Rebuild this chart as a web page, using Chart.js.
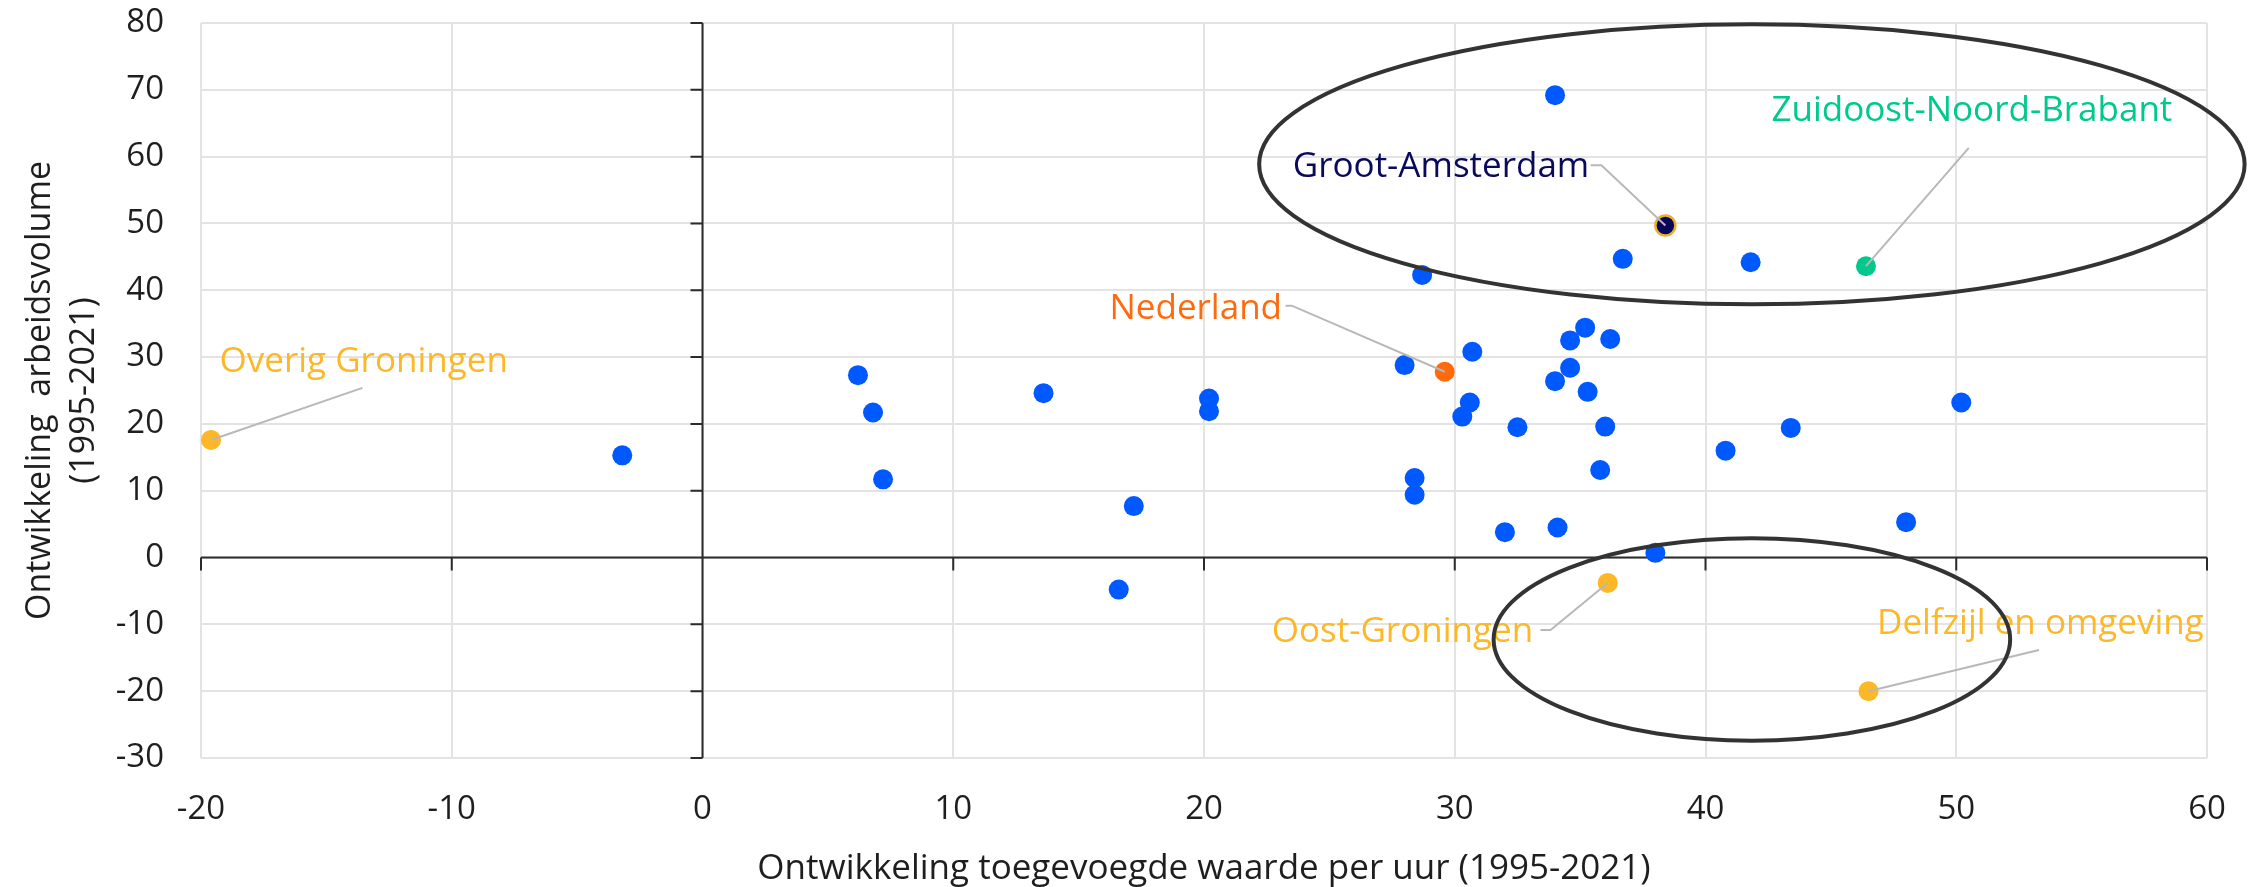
<!DOCTYPE html>
<html>
<head>
<meta charset="utf-8">
<script src="https://cdn.jsdelivr.net/npm/chart.js@4.4.1/dist/chart.umd.min.js"></script>
<style>
  body { margin: 0; background: #fff; }
  #wrap { width: 2254px; height: 887px; position: relative; }
</style>
</head>
<body>
<div id="wrap"><canvas id="chart"></canvas></div>
<script>
// overige COROP-regio's (x: toegevoegde waarde per uur, y: arbeidsvolume)
var otherX = [-3.2, 6.2, 6.8, 7.2, 13.6, 16.6, 17.2, 20.2, 20.2, 28.0, 28.7, 28.4, 28.4, 30.7, 30.6, 30.3, 32.0, 32.5,
              34.0, 36.7, 41.8, 35.2, 34.6, 36.2, 34.6, 34.0, 35.3, 36.0, 35.8, 50.2, 43.4, 40.8, 48.0, 34.1, 38.0];
var otherY = [15.3, 27.3, 21.7, 11.7, 24.6, -4.8, 7.7, 23.8, 21.9, 28.8, 42.3, 11.9, 9.4, 30.8, 23.2, 21.1, 3.8, 19.5,
              69.2, 44.7, 44.2, 34.4, 32.5, 32.7, 28.4, 26.4, 24.8, 19.6, 13.1, 23.2, 19.4, 16.0, 5.3, 4.5, 0.7];

// uitgelichte regio's
var namedRegions = ["Overig Groningen", "Oost-Groningen", "Delfzijl en omgeving", "Nederland", "Groot-Amsterdam", "Zuidoost-Noord-Brabant"];
var namedX = [-19.6, 36.1, 46.5, 29.6, 38.4, 46.4];
var namedY = [17.6, -3.8, -20.0, 27.8, 49.7, 43.6];

var xTitle = "Ontwikkeling toegevoegde waarde per uur (1995-2021)";
var yTitle = ["Ontwikkeling  arbeidsvolume", "(1995-2021)"];

var FONT = "'Open Sans', sans-serif";
var yellow = "#FDB827";

// kleur, label (links, midden) en knikpunten van de verbindingslijn, in asseneenheden
var callouts = {
  "Overig Groningen":       { color: yellow,    lx: -19.26, ly: 29.3, line: [[-13.56, 25.4]] },
  "Oost-Groningen":         { color: yellow,    lx: 22.7,   ly: -11.2, line: [[33.42, -10.86], [33.82, -10.86]] },
  "Delfzijl en omgeving":   { color: yellow,    lx: 46.84,  ly: -9.9, line: [[53.3, -13.85]] },
  "Nederland":              { color: "#FF6A0D", lx: 16.23,  ly: 37.2, line: [[23.25, 37.7], [23.5, 37.7]] },
  "Groot-Amsterdam":        { color: "#0A0A5C", lx: 23.54,  ly: 58.4, line: [[35.42, 58.7], [35.85, 58.7]], fill: "#06065A", border: "#EBB030" },
  "Zuidoost-Noord-Brabant": { color: "#00C98D", lx: 42.63,  ly: 66.8, line: [[50.5, 61.3]] }
};

// ellipsen: middelpunt en halve assen
var rings = [
  { cx: 41.85, cy: 58.85, a: 19.65, b: 20.95 },
  { cx: 41.85, cy: -12.25, a: 10.3, b: 15.15 }
];

function toPoints(xs, ys) {
  return xs.map(function(x, i) { return { x: x, y: ys[i] }; });
}

var datasets = [{
  label: "Overige regio's",
  data: toPoints(otherX, otherY),
  backgroundColor: "#0058FF",
  borderWidth: 0,
  pointRadius: 10
}];

namedRegions.forEach(function(name, i) {
  var c = callouts[name];
  datasets.push({
    label: name,
    data: [{ x: namedX[i], y: namedY[i] }],
    backgroundColor: c.fill || c.color,
    borderColor: c.border || c.color,
    borderWidth: c.border ? 2.5 : 0,
    pointRadius: 10
  });
});

var overlay = {
  id: 'overlay',
  beforeDatasetsDraw: function(chart) {
    var ctx = chart.ctx, xs = chart.scales.x, ys = chart.scales.y;
    var x0 = xs.getPixelForValue(0), y0 = ys.getPixelForValue(0);
    ctx.save();
    ctx.strokeStyle = "#2b2b2b";
    ctx.lineWidth = 2;
    ctx.beginPath();
    ctx.moveTo(xs.left, y0); ctx.lineTo(xs.right, y0);
    ctx.moveTo(x0, ys.top); ctx.lineTo(x0, ys.bottom);
    xs.ticks.forEach(function(t) {
      var px = xs.getPixelForValue(t.value);
      ctx.moveTo(px, y0); ctx.lineTo(px, y0 + 13);
    });
    ys.ticks.forEach(function(t) {
      var py = ys.getPixelForValue(t.value);
      ctx.moveTo(x0 - 12, py); ctx.lineTo(x0, py);
    });
    ctx.stroke();
    ctx.restore();
  },
  afterDatasetsDraw: function(chart) {
    var ctx = chart.ctx, xs = chart.scales.x, ys = chart.scales.y;
    ctx.save();

    // verbindingslijnen
    ctx.strokeStyle = "#B8B8B8";
    ctx.lineWidth = 2;
    namedRegions.forEach(function(name, i) {
      var c = callouts[name];
      ctx.beginPath();
      ctx.moveTo(xs.getPixelForValue(namedX[i]), ys.getPixelForValue(namedY[i]));
      for (var k = c.line.length - 1; k >= 0; k--) {
        ctx.lineTo(xs.getPixelForValue(c.line[k][0]), ys.getPixelForValue(c.line[k][1]));
      }
      ctx.stroke();
    });

    // labels
    ctx.font = "35px " + FONT;
    ctx.textAlign = "left";
    ctx.textBaseline = "middle";
    namedRegions.forEach(function(name) {
      var c = callouts[name];
      ctx.fillStyle = c.color;
      ctx.fillText(name, xs.getPixelForValue(c.lx), ys.getPixelForValue(c.ly));
    });

    // ellipsen
    ctx.strokeStyle = "#333333";
    ctx.lineWidth = 4;
    rings.forEach(function(r) {
      var cx = xs.getPixelForValue(r.cx), cy = ys.getPixelForValue(r.cy);
      var rx = Math.abs(xs.getPixelForValue(r.cx + r.a) - cx);
      var ry = Math.abs(ys.getPixelForValue(r.cy + r.b) - cy);
      ctx.beginPath();
      ctx.ellipse(cx, cy, rx, ry, 0, 0, Math.PI * 2);
      ctx.stroke();
    });
    ctx.restore();
  }
};

var config = {
  type: 'scatter',
  data: { datasets: datasets },
  options: {
    responsive: true,
    maintainAspectRatio: false,
    animation: false,
    events: [],
    layout: { padding: { top: 23, right: 47, left: 0, bottom: 0 } },
    plugins: {
      legend: { display: false },
      tooltip: { enabled: false }
    },
    scales: {
      x: {
        type: 'linear',
        min: -20, max: 60,
        ticks: { stepSize: 10, padding: 0, color: "#1e1e1e", font: { family: FONT, size: 33 } },
        grid: { color: "#E3E3E3", lineWidth: 2, drawTicks: true, tickLength: 32, tickColor: "rgba(0,0,0,0)" },
        border: { display: false },
        title: { display: true, text: xTitle, color: "#1e1e1e", font: { family: FONT, size: 35, lineHeight: 1 }, padding: 0 },
        afterFit: function(scale) { scale.height = 129; }
      },
      y: {
        type: 'linear',
        min: -30, max: 80,
        ticks: { stepSize: 10, padding: 0, color: "#1e1e1e", font: { family: FONT, size: 33 } },
        grid: { color: "#E3E3E3", lineWidth: 2, drawTicks: true, tickLength: 37, tickColor: "rgba(0,0,0,0)" },
        border: { display: false },
        title: { display: true, text: yTitle, color: "#1e1e1e", font: { family: FONT, size: 34, lineHeight: 1.3 }, padding: { top: 18, bottom: 0 } },
        afterFit: function(scale) { scale.width = 201; }
      }
    }
  },
  plugins: [overlay]
};

var ctx = document.getElementById("chart");
window.myChart = new Chart(ctx, config);
</script>
</body>
</html>
